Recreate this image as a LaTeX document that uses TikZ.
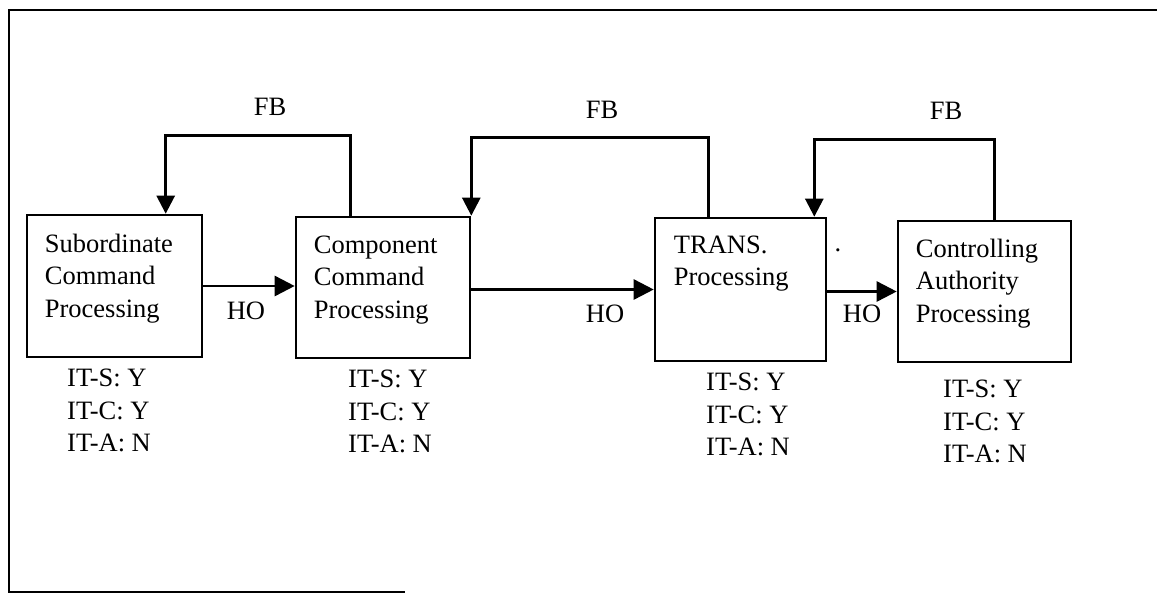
\documentclass[tikz,border=0pt]{standalone}
\usepackage{fontspec}
\setmainfont{Liberation Serif}
\usetikzlibrary{arrows.meta,calc}
\begin{document}
\begin{tikzpicture}[x=1pt,y=-1pt,
  procbox/.style={draw,line width=2.6pt,rectangle,inner sep=0pt},
  txt/.style={inner sep=0pt,align=left,font=\fontsize{26.5}{32.5}\selectfont},
  lbl/.style={inner sep=0pt,font=\fontsize{26.5}{32.5}\selectfont},
  ho/.style={line width=2.6pt,-{Triangle[length=20pt,width=20pt]}},
  fb/.style={line width=2.6pt,-{Triangle[length=18pt,width=18pt]}},
  frame/.style={line width=2pt}]
\useasboundingbox (0,0) rectangle (1157,595);
% outer frame
\coordinate (ftr) at (1157,10);
\coordinate (ftl) at (9,10);
\coordinate (fbl) at (9,592);
\coordinate (fbr) at (405,592);
\draw[frame] (ftr) -- (ftl) -- (fbl) -- (fbr);
% boxes
\node[procbox,minimum width=175pt,minimum height=142pt] (b1) at (114.5,286) {};
\node[procbox,minimum width=174pt,minimum height=141pt] (b2) at (383,287.5) {};
\node[procbox,minimum width=171pt,minimum height=143pt] (b3) at (740.5,289.5) {};
\node[procbox,minimum width=173pt,minimum height=141pt] (b4) at (984.5,291.5) {};
% box texts
\node[txt,anchor=north west] (t1) at ($(b1.north west)+(19,20)$) {Subordinate\\Command\\Processing};
\node[txt,anchor=north west] (t2) at ($(b2.north west)+(19,20)$) {Component\\Command\\Processing};
\node[txt,anchor=north west] (t3) at ($(b3.north west)+(20,19)$) {TRANS.\\Processing};
\node[txt,anchor=north west] (t4) at ($(b4.north west)+(19,19)$) {Controlling\\Authority\\Processing};
% IT labels
\node[txt,anchor=north west] (i1) at (67,369) {IT-S: Y\\IT-C: Y\\IT-A: N};
\node[txt,anchor=north west] (i2) at (348,370) {IT-S: Y\\IT-C: Y\\IT-A: N};
\node[txt,anchor=north west] (i3) at (706,373) {IT-S: Y\\IT-C: Y\\IT-A: N};
\node[txt,anchor=north west] (i4) at (943,380) {IT-S: Y\\IT-C: Y\\IT-A: N};
% HO arrows
\draw[ho] (b1.east) -- (b1.east -| b2.west);
\draw[ho] (b2.east |- b3.west) -- (b3.west);
\draw[ho] (b3.east |- b4.west) -- (b4.west);
\node[lbl] (ho1) at (246,311) {HO};
\node[lbl] (ho2) at (605,314) {HO};
\node[lbl] (ho3) at (862,314) {HO};
% FB loops
\draw[fb] ($(b2.north west)+(56,0)$) -- ++(0,-80) -| ($(b1.north west)+(140,0)$);
\draw[fb] ($(b3.north west)+(55,0)$) -- ++(0,-79) -| (b2.north east);
\draw[fb] ($(b4.north west)+(98,0)$) -- ++(0,-80) -| ($(b3.north east)+(-13,0)$);
\node[lbl] (fb1) at (270,107) {FB};
\node[lbl] (fb2) at (602,110) {FB};
\node[lbl] (fb3) at (946,111) {FB};
% stray dot
\node[lbl] (dot) at (838,250) {.};
\end{tikzpicture}
\end{document}
